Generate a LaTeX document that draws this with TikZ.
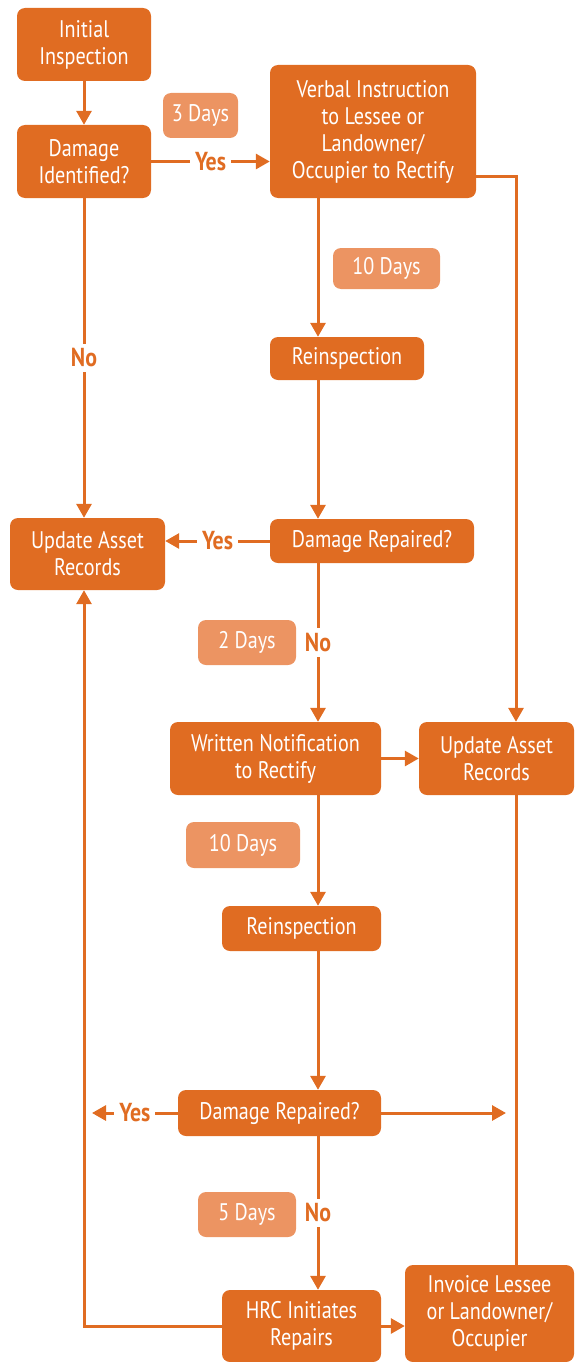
\documentclass[tikz,border=0pt]{standalone}
\usepackage{fontspec}
\setmainfont{PT Sans}[FakeStretch=0.84]
\usetikzlibrary{arrows.meta}

\definecolor{hrcorange}{RGB}{224,108,34}
\definecolor{hrclight}{RGB}{236,148,98}

\tikzset{
	stepbox/.style = {fill=hrcorange, text=white, rounded corners=8pt, align=center, inner sep=0pt, font=\fontsize{24}{27}\selectfont},
	daybox/.style = {fill=hrclight, text=white, rounded corners=8pt, align=center, inner sep=0pt, font=\fontsize{24}{27}\selectfont},
	answer/.style = {fill=white, text=hrcorange, inner sep=5pt, font=\fontsize{26}{28}\selectfont\bfseries},
	flow/.style = {draw=hrcorange, line width=3pt, -{Triangle[length=14pt,width=15pt]}},
	link/.style = {draw=hrcorange, line width=3pt}
}

\begin{document}
\begin{tikzpicture}[x=1pt, y=-1pt]
		\useasboundingbox (0,0) rectangle (574,1362);
		\coordinate (col) at (318,0);
		\coordinate (lcol) at (84,0);
		\coordinate (rcol) at (516,176);

		First check
		\node (init) at (84,44.5) [stepbox, minimum width=134, minimum height=73] {Initial\\Inspection};
		\node (ident) at (84,161.5) [stepbox, minimum width=134, minimum height=73] {Damage\\Identified?};
		\node (days3) at (200.5,115.5) [daybox, minimum width=75, minimum height=45] {3 Days};
		\node (verbal) at (373,131.5) [stepbox, minimum width=206, minimum height=133] {Verbal Instruction\\to Lessee or\\Landowner/\\Occupier to Rectify};
		\node (days10a) at (386.5,268.5) [daybox, minimum width=107, minimum height=41] {10 Days};
		\node (reinsp1) at (347,358.5) [stepbox, minimum width=154, minimum height=43] {Reinspection};
		\node (rep1) at (372,541) [stepbox, minimum width=204, minimum height=44] {Damage Repaired?};
		\node (upd1) at (87.5,554) [stepbox, minimum width=155, minimum height=72] {Update Asset\\Records};

		\draw [flow] (init) -- (ident);
		\draw [flow] (ident.east) -- node [answer] {Yes} (ident.east -| verbal.west);
		\draw [flow] (ident.south) -- node [answer] {No} (ident.south |- upd1.north);
		\draw [flow] (verbal.south -| col) -- (reinsp1.north -| col);
		\draw [flow] (reinsp1.south -| col) -- (rep1.north -| col);
		\draw [flow] (rep1.west) -- node [answer] {Yes} (rep1.west -| upd1.east);

		Written notice
		\node (days2) at (247,642.5) [daybox, minimum width=98, minimum height=45] {2 Days};
		\node (notif) at (275.5,758.5) [stepbox, minimum width=211, minimum height=73] {Written Notification\\to Rectify};
		\node (upd2) at (496.5,758.5) [stepbox, minimum width=155, minimum height=73] {Update Asset\\Records};
		\node (days10b) at (243,845) [daybox, minimum width=114, minimum height=46] {10 Days};
		\node (reinsp2) at (301.5,928.5) [stepbox, minimum width=159, minimum height=45] {Reinspection};
		\node (rep2) at (279.5,1113) [stepbox, minimum width=203, minimum height=46] {Damage Repaired?};

		\draw [flow] (rep1.south -| col) -- node [answer] {No} (notif.north -| col);
		\draw [flow] (verbal.east |- rcol) -- (rcol) -- (upd2.north -| rcol);
		\draw [flow] (notif) -- (upd2);
		\draw [flow] (notif.south -| col) -- (reinsp2.north -| col);
		\draw [flow] (reinsp2.south -| col) -- (rep2.north -| col);
		\draw [flow] (rep2.west) -- node [answer] {Yes} ([xshift=8pt]rep2.west -| lcol);
		\draw [flow] (rep2.east) -- ([xshift=-10pt]rep2.east -| rcol);

		Repairs
		\node (days5) at (247,1214.5) [daybox, minimum width=98, minimum height=45] {5 Days};
		\node (hrc) at (301.5,1326) [stepbox, minimum width=159, minimum height=72] {HRC Initiates\\Repairs};
		\node (invoice) at (489.5,1313.5) [stepbox, minimum width=169, minimum height=97] {Invoice Lessee\\or Landowner/\\Occupier};

		\draw [flow] (rep2.south -| col) -- node [answer] {No} (hrc.north -| col);
		\draw [flow] (hrc.east) -- (hrc.east -| invoice.west);
		\draw [link] (upd2.south -| rcol) -- (invoice.north -| rcol);
		\draw [flow] (hrc.west) -- (hrc.west -| lcol) -- (upd1.south -| lcol);
\end{tikzpicture}
\end{document}
